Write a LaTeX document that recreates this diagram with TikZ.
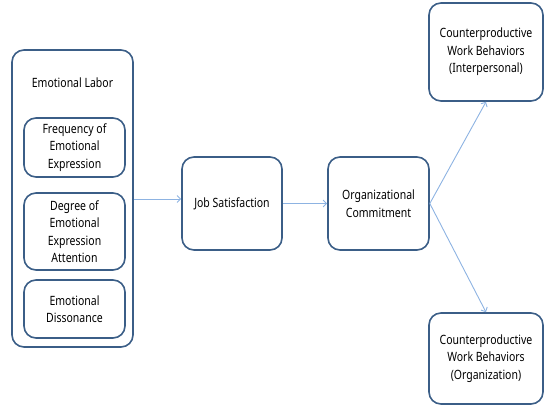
\documentclass[tikz,border=0pt]{standalone}
\usepackage{fontspec}
\setmainfont{Noto Sans}[FakeStretch=0.82]
\usetikzlibrary{arrows.meta}
\definecolor{boxline}{HTML}{3B5E87}
\definecolor{linkline}{HTML}{8DB3E2}
\begin{document}
\begin{tikzpicture}[x=1pt,y=-1pt,
  card/.style={draw=boxline,line width=1.6pt,fill=white,rounded corners=12pt,
    align=center,inner sep=0pt,font=\fontsize{12.8}{17.5}\selectfont},
  link/.style={draw=linkline,line width=0.9pt,-{Straight Barb[length=3.5pt,width=7pt]}}]
  \useasboundingbox (0,0) rectangle (545,407);
  % emotional labor group with its three facets
  \node[card,minimum width=121pt,minimum height=297pt] (labor) at (72.5,198.5) {};
  \node[font=\fontsize{12.8}{17.5}\selectfont] (laborlbl) at (72.5,83) {Emotional Labor};
  \node[card,minimum width=101pt,minimum height=59pt] (freq) at (74.5,147.5) {Frequency of\\Emotional\\Expression};
  \node[card,minimum width=101pt,minimum height=77pt] (degree) at (74.5,231.5) {Degree of\\Emotional\\Expression\\Attention};
  \node[card,minimum width=101pt,minimum height=58pt] (diss) at (74.5,309) {Emotional\\Dissonance};
  % mediators
  \node[card,minimum width=100pt,minimum height=93pt] (job) at (232,203.5) {Job Satisfaction};
  \node[card,minimum width=101pt,minimum height=93pt] (org) at (378.5,203.5) {Organizational\\Commitment};
  % outcomes
  \node[card,minimum width=114pt,minimum height=98pt] (cwbi) at (486,52) {Counterproductive\\Work Behaviors\\(Interpersonal)};
  \node[card,minimum width=114pt,minimum height=91pt] (cwbo) at (486,358.5) {Counterproductive\\Work Behaviors\\(Organization)};
  % paths
  \draw[link] (labor.east |- 0,199) -- (job.west |- 0,199);
  \draw[link] (job) -- (org);
  \draw[link] (org.east) -- (cwbi.south);
  \draw[link] (org.east) -- (cwbo.north);
\end{tikzpicture}
\end{document}
